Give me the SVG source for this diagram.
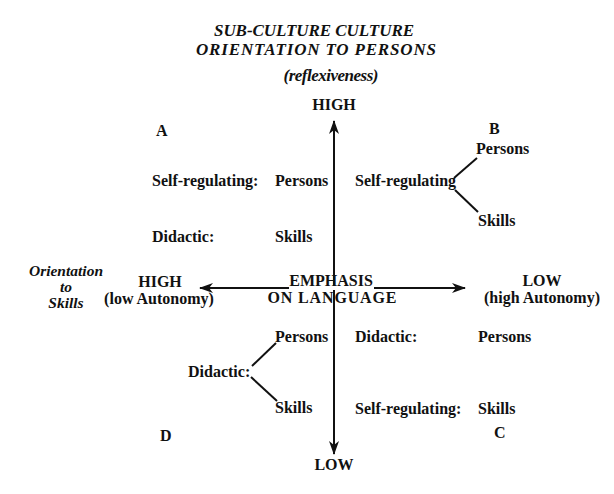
<svg xmlns="http://www.w3.org/2000/svg" width="614" height="494" viewBox="0 0 614 494">
<style>
text{font-family:"Liberation Serif","Times New Roman",serif;font-weight:bold;fill:#111;font-size:16px}
.ti{font-style:italic;font-size:17px}
.it{font-style:italic;font-size:15.5px}
.m{text-anchor:middle}
.ln{stroke:#111;stroke-width:2;fill:none}
</style>
<defs>
<marker id="ah" viewBox="0 0 14 10" refX="13" refY="5" markerWidth="14" markerHeight="10" markerUnits="userSpaceOnUse" orient="auto">
<path d="M0,0 L14,5 L0,10 L4,5 Z" fill="#111"/>
</marker>
</defs>
<rect width="614" height="494" fill="#fff"/>
<g id="title">
<text class="ti m" x="314" y="36" textLength="200">SUB-CULTURE CULTURE</text>
<text class="ti m" x="316" y="55" textLength="240">ORIENTATION TO PERSONS</text>
<text class="ti m" x="331" y="81" font-size="16" textLength="95">(reflexiveness)</text>
</g>
<g id="connectors">
<line class="ln" x1="334" y1="286" x2="334" y2="121" marker-end="url(#ah)"/>
<line class="ln" x1="334" y1="290" x2="334" y2="454" marker-end="url(#ah)"/>
<line class="ln" x1="289" y1="288" x2="200" y2="288" marker-end="url(#ah)"/>
<line class="ln" x1="374" y1="288" x2="465" y2="288" marker-end="url(#ah)"/>
<line class="ln" x1="454" y1="178" x2="477" y2="158"/>
<line class="ln" x1="455" y1="190" x2="478" y2="212"/>
<line class="ln" x1="252" y1="366" x2="276" y2="343"/>
<line class="ln" x1="251" y1="377" x2="277" y2="401"/>
</g>
<g id="axis-top"><text class="m" x="334" y="110">HIGH</text></g>
<g id="axis-bottom"><text class="m" x="334" y="470">LOW</text></g>
<g id="center"><text class="m" x="331" y="286">EMPHASIS</text><text class="m" x="332" y="303" textLength="129">ON LANGUAGE</text></g>
<g id="axis-left">
<text class="it m" x="66" y="276">Orientation</text>
<text class="it m" x="66" y="292">to</text>
<text class="it m" x="66" y="308">Skills</text>
<text class="m" x="160" y="287">HIGH</text>
<text class="m" x="159" y="304">(low Autonomy)</text>
</g>
<g id="axis-right">
<text class="m" x="542" y="286">LOW</text>
<text class="m" x="542" y="303">(high Autonomy)</text>
</g>
<g id="quadA">
<text x="156" y="136">A</text>
<text x="152" y="186">Self-regulating:</text>
<text x="275" y="186">Persons</text>
<text x="152" y="242">Didactic:</text>
<text x="275" y="242">Skills</text>
</g>
<g id="quadB">
<text x="489" y="134">B</text>
<text x="355" y="186">Self-regulating</text>
<text x="476" y="154">Persons</text>
<text x="478" y="226">Skills</text>
</g>
<g id="quadD">
<text x="160" y="441">D</text>
<text x="188" y="377">Didactic:</text>
<text x="275" y="342">Persons</text>
<text x="275" y="413">Skills</text>
</g>
<g id="quadC">
<text x="355" y="342">Didactic:</text>
<text x="478" y="342">Persons</text>
<text x="355" y="414">Self-regulating:</text>
<text x="478" y="414">Skills</text>
<text x="494" y="438">C</text>
</g>
</svg>
